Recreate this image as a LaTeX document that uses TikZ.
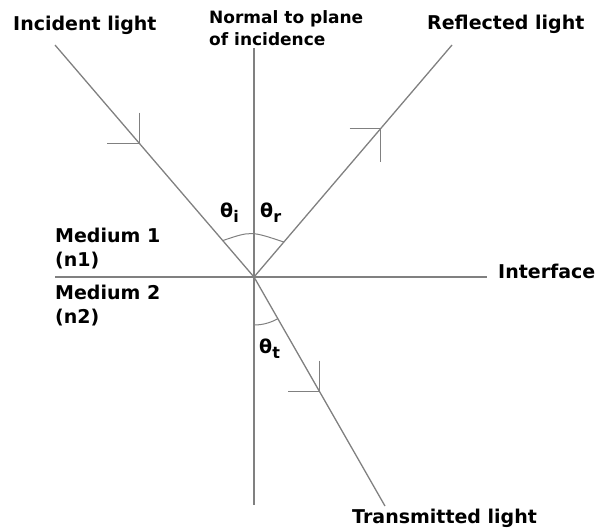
\documentclass[tikz,border=0pt]{standalone}
\usepackage{fontspec}
\setmainfont{DejaVu Sans}
\usetikzlibrary{calc}
\definecolor{linegray}{RGB}{128,128,128}
\tikzset{
  ray/.style={draw=linegray, line width=1.3pt},
  tiphead/.style={draw=linegray, line width=1.3pt},
  anglearc/.style={draw=linegray, line width=1pt},
  lbl/.style={inner sep=0pt, anchor=base west, font=\bfseries\fontsize{19}{23}\selectfont},
  smalllbl/.style={inner sep=0pt, anchor=base west, font=\bfseries\fontsize{17}{21}\selectfont},
  ang/.style={inner sep=0pt, anchor=base west, font=\bfseries\fontsize{19}{23}\selectfont}
}
\newcommand{\sbx}[1]{\raisebox{-5pt}{\fontsize{16}{16}\selectfont #1}}
\begin{document}
\begin{tikzpicture}[x=1pt,y=-1pt]
\useasboundingbox (0,0) rectangle (599,531);
% key points
\coordinate (O) at (254,277);
\coordinate (inc) at (55,45);
\coordinate (refl) at (452,45);
\coordinate (trans) at (385,506);
\coordinate (ntop) at (254,48);
\coordinate (nbot) at (254,505);
\coordinate (ileft) at (55,277);
\coordinate (iright) at (487,277);
% lines
\draw[ray] (ntop) -- (nbot);
\draw[ray] (ileft) -- (iright);
\draw[ray] (inc) -- (O);
\draw[ray] (O) -- (refl);
\draw[ray] (O) -- (trans);
% arrowheads
\coordinate (ai) at ($(inc)!0.425!(O)$);
\draw[tiphead] ($(ai)+(0,-31)$) -- (ai) -- ($(ai)+(-33,0)$);
\coordinate (ar) at ($(O)!0.64!(refl)$);
\draw[tiphead] ($(ar)+(-31,0)$) -- (ar) -- ($(ar)+(0,33)$);
\coordinate (at) at ($(O)!0.5!(trans)$);
\draw[tiphead] ($(at)+(0,-31)$) -- (at) -- ($(at)+(-32,0)$);
% angle arcs (y axis points down)
\draw[anglearc] ($(O)+(-130.6:48)$) .. controls (251,231) .. ($(O)+(-49.4:46)$);
\draw[anglearc] ($(O)+(90:48)$) arc[start angle=90, end angle=60.2, radius=48];
% labels
\node[lbl] (tinc) at (13,30) {Incident light};
\node[smalllbl] (tnorm1) at (209,23) {Normal to plane};
\node[smalllbl] (tnorm2) at (209,45) {of incidence};
\node[lbl] (trefl) at (427,29) {Reflected light};
\node[lbl] (tm1) at (55,242) {Medium 1};
\node[lbl] (tn1) at (55,266) {(n1)};
\node[lbl] (tm2) at (55,299) {Medium 2};
\node[lbl] (tn2) at (55,323) {(n2)};
\node[lbl] (tint) at (498,278) {Interface};
\node[lbl] (ttrans) at (352,523) {Transmitted light};
\node[ang] (thi) at (220,217) {θ\sbx{i}};
\node[ang] (thr) at (260,217) {θ\sbx{r}};
\node[ang] (tht) at (259,353) {θ\sbx{t}};
\end{tikzpicture}
\end{document}
